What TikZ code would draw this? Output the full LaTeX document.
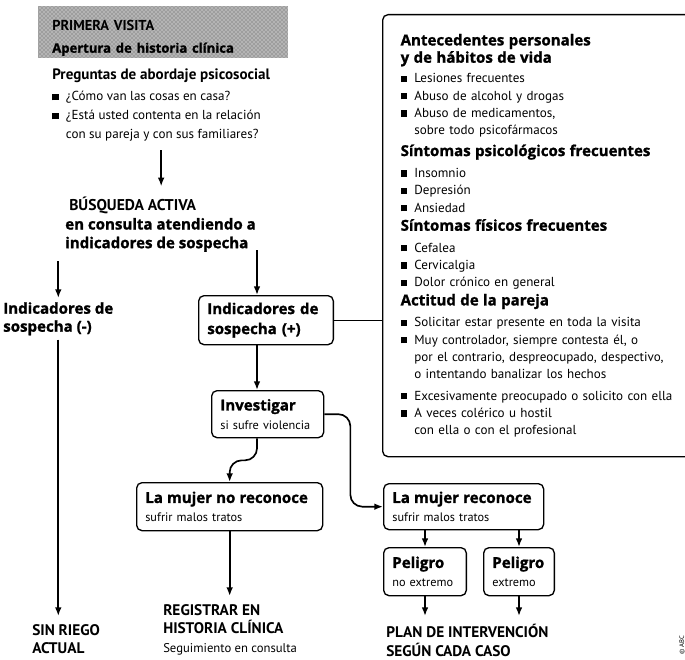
\documentclass[tikz,border=0pt]{standalone}
\usepackage{fontspec}
\setmainfont{PT Sans}
\newfontfamily\heavyfont{Open Sans}[BoldFeatures={FakeBold=1.3}]
\usetikzlibrary{arrows.meta,patterns,calc}
\newcommand\hv{\heavyfont\fontsize{11.3}{14}\selectfont\bfseries}
\newcommand\mayus{\fontsize{11.5}{14}\selectfont\bfseries}
\newcommand\vin{\makebox[1.05em][l]{\rule[0.1ex]{0.5em}{0.5em}}}
\newcommand\sang{\hspace*{1.05em}}

\begin{document}
\begin{tikzpicture}[x=0.75pt, y=-0.75pt,
	box/.style={draw, rounded corners=4pt, line width=1pt, anchor=north west, align=left, inner xsep=6.5pt, inner ysep=3pt, font=\fontsize{9.2}{14}\selectfont},
	lbl/.style={anchor=north west, align=left, inner sep=0pt},
	arr/.style={-{Latex[length=6.5pt,width=5pt]}, line width=1.25pt}]
			%%%%% START %%%%%
			\useasboundingbox (0,0) rectangle (685,660);
			
			\node[lbl, fill=black!38, postaction={pattern=crosshatch dots, pattern color=white}, inner xsep=10.5pt, text width=166.5pt, minimum height=39pt, font=\fontsize{10.8}{17}\selectfont\bfseries] (visita) at (38,6) {\rule{0pt}{16pt}PRIMERA VISITA\\{\heavyfont\fontsize{9.8}{17}\selectfont Apertura de historia clínica}};
			
			\node[lbl, font=\fontsize{9.8}{14.25}\selectfont] (preg) at (52,69) {{\bfseries\fontsize{11.3}{14.25}\selectfont Preguntas de abordaje psicosocial}\\[1.5pt]
				\vin ¿Cómo van las cosas en casa?\\
				\vin ¿Está usted contenta en la relación\\
				\sang con su pareja y con sus familiares?};
			
			\node[lbl, font=\hv] (busq) at (65,197) {\hspace*{3pt}{\normalfont\fontsize{11.7}{14}\selectfont\bfseries BÚSQUEDA ACTIVA}\\en consulta atendiendo a\\indicadores de sospecha};
			\coordinate (eje) at (257,250);
			
			\node[lbl, font=\heavyfont\fontsize{11.3}{13.5}\selectfont\bfseries] (minus) at (3,302) {Indicadores de\\sospecha (-)};
			\node[box, font=\heavyfont\fontsize{11.3}{15}\selectfont\bfseries, text width=88pt, minimum height=36.75pt] (plus) at (198,295) {Indicadores de\\sospecha (+)};
			\node[box, text width=71pt, minimum height=35.25pt] (inv) at (211,390) {{\hv Investigar}\\si sufre violencia};
			\node[box, text width=126.5pt, minimum height=36pt] (nore) at (136,482) {{\hv La mujer no reconoce}\\sufrir malos tratos};
			\node[box, text width=107pt, minimum height=34.5pt] (reco) at (383,483) {{\hv La mujer reconoce}\\sufrir malos tratos};
			\node[box, text width=49pt, minimum height=36pt] (pel1) at (383,547) {{\hv Peligro}\\no extremo};
			\node[box, text width=40pt, minimum height=36pt] (pel2) at (483,547) {{\hv Peligro}\\extremo};
			
			\node[lbl, font=\mayus] (sinriego) at (32,624) {SIN RIEGO\\ACTUAL};
			\node[lbl, font=\mayus] (reg) at (163,604) {REGISTRAR EN\\HISTORIA CLÍNICA\\{\mdseries\fontsize{9.5}{14}\selectfont Seguimiento en consulta}};
			\node[lbl, font=\mayus] (plan) at (386,624) {PLAN DE INTERVENCIÓN\\SEGÚN CADA CASO};
			
			\node[box, text width=230pt, minimum height=331.5pt, inner xsep=13.5pt, font=\fontsize{9.8}{13}\selectfont] (info) at (382,14) {{\hv Antecedentes personales}\\
				{\hv y de hábitos de vida}\\[2pt]
				\vin Lesiones frecuentes\\
				\vin Abuso de alcohol y drogas\\
				\vin Abuso de medicamentos,\\
				\sang sobre todo psicofármacos\\[3pt]
				{\hv Síntomas psicológicos frecuentes}\\[3pt]
				\vin Insomnio\\
				\vin Depresión\\
				\vin Ansiedad\\[1pt]
				{\hv Síntomas físicos frecuentes}\\[3pt]
				\vin Cefalea\\
				\vin Cervicalgia\\
				\vin Dolor crónico en general\\[1pt]
				{\hv Actitud de la pareja}\\[3pt]
				\vin Solicitar estar presente en toda la visita\\
				\vin Muy controlador, siempre contesta él, o\\
				\sang por el contrario, despreocupado, despectivo,\\
				\sang o intentando banalizar los hechos\\[3pt]
				\vin Excesivamente preocupado o solicito con ella\\
				\vin A veces colérico u hostil\\
				\sang con ella o con el profesional};
			
			\node[rotate=90, font=\fontsize{5}{6}\selectfont] (credito) at (682,645) {© ABC};
			
			\draw[arr, shorten <=6pt, shorten >=8pt] (preg.south) -- (preg.south |- busq.north);
			\draw[arr, shorten <=7pt, shorten >=3pt] (busq.south -| minus.north) -- (minus.north);
			\draw[arr] (eje) -- (eje |- plus.north);
			\draw[line width=1pt] (plus.east) -- (plus.east -| info.west);
			\draw[arr] (eje |- plus.south) -- (eje |- inv.north);
			\draw[arr, rounded corners=9pt] (eje |- inv.south) -- ++(0,22) -| (nore.north);
			\draw[arr, rounded corners=9pt] (inv.east) -- ++(26,0) |- (reco.west);
			\draw[arr, shorten <=3pt, shorten >=6pt] (minus.south) -- (minus.south |- sinriego.north);
			\draw[arr, shorten >=6pt] (nore.south) -- (nore.south |- reg.north);
			\draw[arr] (reco.south -| pel1.north) -- (pel1.north);
			\draw[arr] (reco.south -| pel2.north) -- (pel2.north);
			\draw[arr, shorten >=6pt] (pel1.south) -- (pel1.south |- plan.north);
			\draw[arr, shorten >=6pt] (pel2.south) -- (pel2.south |- plan.north);
			
			%%%%% END %%%%%
\end{tikzpicture}
\end{document}
